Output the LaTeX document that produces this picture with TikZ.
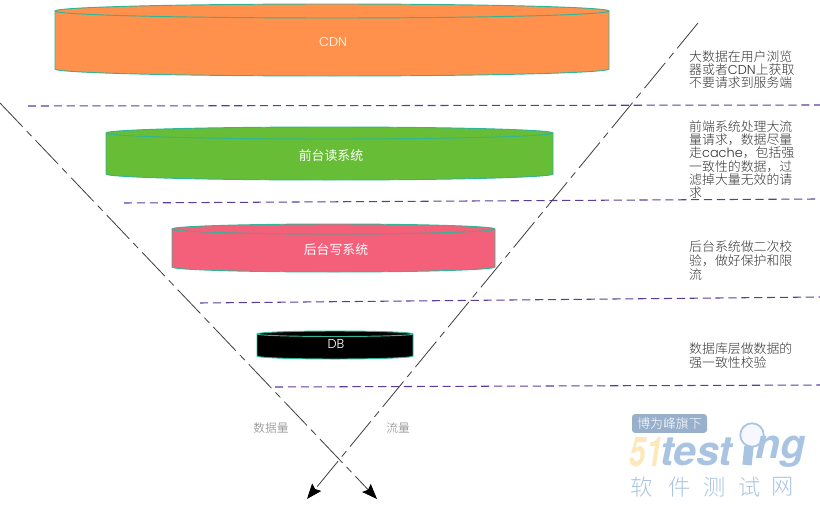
\documentclass[tikz,border=0pt]{standalone}
\usepackage{fontspec}
\setmainfont{Noto Sans CJK SC Light}
\newfontfamily\barrelfont{Noto Sans CJK SC}
\newfontfamily\latinfont{Poppins Light}
\newfontfamily\markfont{TeX Gyre Heros}
\usetikzlibrary{arrows.meta}
\definecolor{rimteal}{HTML}{2FB597}
\definecolor{cdnorange}{HTML}{FF914D}
\definecolor{readgreen}{HTML}{67BD35}
\definecolor{writepink}{HTML}{F4607A}
\definecolor{tierpurple}{HTML}{5A3D9A}
\definecolor{markblue}{HTML}{A9C4E2}
\definecolor{markyellow}{HTML}{FCE8B8}
\tikzset{
  barrel/.style={draw=rimteal,line width=0.8pt},
  barreltext/.style={text=white,font=\barrelfont\fontsize{11}{12}\selectfont,inner sep=0pt},
  tierline/.style={tierpurple,line width=0.9pt,dash pattern=on 7pt off 4pt},
  funnelline/.style={black!75,line width=0.7pt,dash pattern=on 28pt off 5pt on 6pt off 5pt,-{Stealth[length=13pt,width=10pt,inset=2pt,black]}},
  sidenote/.style={anchor=north west,align=left,inner sep=0pt,text=black!80,font=\fontsize{11}{11.4}\selectfont},
  flowlabel/.style={text=black!50,font=\fontsize{10}{12}\selectfont,inner sep=0pt},
  markletters/.style={inner sep=0pt,text=markblue,font=\markfont\bfseries\itshape\fontsize{35}{35}\selectfont},
  markchar/.style={inner sep=0pt,text=markblue,font=\fontsize{19}{20}\selectfont}
}
\begin{document}
\begin{tikzpicture}[x=0.03cm,y=0.03cm]
  \useasboundingbox (0,0) rectangle (820,-504);
  % barrels
  \draw [barrel,fill=cdnorange] (55,-11) -- (55,-69) arc (180:360:277 and 7) -- (609,-11) arc (0:180:277 and 7) -- cycle;
  \draw [barrel] (55,-11) arc (180:360:277 and 7);
  \node [barreltext] (cdn) at (333,-42) {\latinfont CDN};
  \draw [barrel,fill=readgreen] (106,-133) -- (106,-174) arc (180:360:223.5 and 6) -- (553,-133) arc (0:180:223.5 and 6) -- cycle;
  \draw [barrel] (106,-133) arc (180:360:223.5 and 6);
  \node [barreltext] (read) at (331,-156) {前台读系统};
  \draw [barrel,fill=writepink] (172,-229) -- (172,-267) arc (180:360:161.5 and 5) -- (495,-229) arc (0:180:161.5 and 5) -- cycle;
  \draw [barrel] (172,-229) arc (180:360:161.5 and 5);
  \node [barreltext] (write) at (336,-250) {后台写系统};
  \draw [barrel,fill=black] (257,-334) -- (257,-356) arc (180:360:78 and 3) -- (413,-334) arc (0:180:78 and 3) -- cycle;
  \draw [barrel] (257,-334) arc (180:360:78 and 2.5);
  \node [barreltext] (db) at (336,-344) {\latinfont DB};
  % tier lines
  \draw [tierline] (28,-106) -- (820,-105);
  \draw [tierline] (124,-203) -- (815,-199);
  \draw [tierline] (200,-303) -- (820,-297);
  \draw [tierline] (275,-387) -- (820,-385);
  % funnel
  \coordinate (leftstart) at (0,-103);
  \coordinate (leftend) at (377,-499);
  \coordinate (rightstart) at (698,-23);
  \coordinate (rightend) at (307,-499);
  \draw [funnelline] (leftstart) -- (leftend);
  \draw [funnelline] (rightstart) -- (rightend);
  \node [flowlabel] (datalabel) at (271,-428) {数据量};
  \node [flowlabel] (flowlabel) at (398,-428) {流量};
  % notes
  \node [sidenote] (note1) at (689,-50) {大数据在用户浏览\\器或者{\latinfont CDN}上获取\\不要请求到服务端};
  \node [sidenote] (note2) at (689,-120) {前端系统处理大流\\量请求，数据尽量\\走{\latinfont cache}，包括强\\一致性的数据，过\\滤掉大量无效的请\\求};
  \node [sidenote,font=\fontsize{11}{12}\selectfont] (note3) at (689,-240.5) {后台系统做二次校\\验，做好保护和限\\流};
  \node [sidenote,font=\fontsize{11}{12}\selectfont] (note4) at (689,-342.5) {数据库层做数据的\\强一致性校验};
  % watermark
  \node [fill=black!10!markblue,rounded corners=2.5pt,minimum width=64pt,minimum height=16pt,inner sep=0pt,text=white,font=\fontsize{11}{12}\selectfont] (markbox) at (669.5,-423.5) {博为峰旗下};
  \node [markletters,text=markyellow,xscale=0.72] (mark51) at (646,-452) {51};
  \node [markletters,anchor=west] (marktest) at (660,-452) {test};
  \draw [markblue,line width=8pt] (749,-446) -- (747,-465);
  \node [circle,draw=markblue,line width=1.5pt,fill=blue!3,minimum size=20pt,inner sep=0pt] (marklens) at (752,-435) {};
  \node [markletters,anchor=west] (markng) at (755,-452) {ng};
  \foreach \name/\x/\c in {a/642/软,b/680/件,c/715/测,d/750/试,e/783/网}
    \node [markchar] (mark\name) at (\x,-487) {\c};
\end{tikzpicture}
\end{document}
